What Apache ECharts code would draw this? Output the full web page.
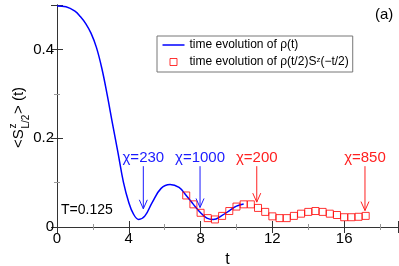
<!DOCTYPE html>
<html><head><meta charset="utf-8">
<script src="https://cdn.jsdelivr.net/npm/echarts@6/dist/echarts.min.js"></script>
<style>html,body{margin:0;padding:0;background:#fff}#c{width:399px;height:266px}</style>
</head><body><div id="c"></div>
<script>
const blueName = 'time evolution of ρ(t)';
const redName = 'time evolution of ρ(t/2)S^z(−t/2)';
const tBlue = [0,0.5,1.0,1.3,1.6,1.9,2.2,2.5,2.8,3.1,3.4,3.7,4.0,4.25,4.55,4.9,5.3,5.8,6.3,6.8,7.2,7.6,8.0,8.35,8.7,9.2,9.65,10.0,10.4];
const sBlue = [0.498,0.496,0.486,0.474,0.458,0.436,0.404,0.357,0.297,0.231,0.167,0.101,0.055,0.030,0.017,0.025,0.055,0.087,0.096,0.089,0.071,0.051,0.032,0.020,0.017,0.026,0.038,0.047,0.052];
const tRed = [7.2,7.6,8.0,8.4,8.8,9.2,9.6,10.0,10.4,10.8,11.2,11.6,12.0,12.4,12.8,13.2,13.6,14.0,14.4,14.8,15.2,15.6,16.0,16.4,16.8,17.2];
const sRed = [0.071,0.051,0.032,0.020,0.017,0.025,0.036,0.046,0.051,0.051,0.043,0.034,0.024,0.020,0.020,0.025,0.030,0.034,0.036,0.034,0.030,0.027,0.022,0.022,0.023,0.025];
const chiLabels = ['χ=230','χ=1000','χ=200','χ=850'];
const chiT = [4.81,7.97,11.13,17.16];
const chiTip = [0.041,0.044,0.056,0.037];
const chiColor = ['#1a1aff','#1a1aff','#ff2020','#ff2020'];
const arrowTop = 0.137;
const xTicks = [0,4,8,12,16];
const yTicks = [0,0.2,0.4];

const FONT = 'Liberation Sans, Arial, sans-serif';
const axisLineStyle = {show: true, lineStyle: {color: '#333', width: 1}};
const minorTick = {inside: true, length: 3, lineStyle: {color: '#999'}};
const majorTick = {inside: true, length: 6, lineStyle: {color: '#333'}};
function xAx(pos, major, withLabels) {
  const a = {type: 'value', min: 0, max: 19, interval: major ? 4 : 2, position: pos,
    axisLine: major ? {show: false} : axisLineStyle, axisTick: major ? majorTick : minorTick,
    axisLabel: {show: false}, splitLine: {show: false}};
  if (withLabels) {
    a.axisLabel = {show: true, fontSize: 15, fontFamily: FONT, color: '#000', margin: 4,
      formatter: v => xTicks.indexOf(v) >= 0 ? String(v) : ''};
    a.name = 't'; a.nameLocation = 'middle'; a.nameGap = 25;
    a.nameTextStyle = {fontSize: 16, fontFamily: FONT, color: '#000'};
  }
  return a;
}
function yAx(pos, major, withLabels) {
  const a = {type: 'value', min: 0, max: 0.5, interval: major ? 0.2 : 0.1, position: pos,
    axisLine: major ? {show: false} : axisLineStyle, axisTick: major ? majorTick : minorTick,
    axisLabel: {show: false}, splitLine: {show: false}};
  if (withLabels) {
    a.axisLabel = {show: true, fontSize: 15, fontFamily: FONT, color: '#000', margin: 3,
      formatter: v => { const r = Math.round(v * 10) / 10; return yTicks.indexOf(r) >= 0 ? String(r) : ''; }};
  }
  return a;
}
const chart = echarts.init(document.getElementById('c'));
chart.setOption({
  animation: false,
  grid: {left: 57, right: 1, top: 5, bottom: 39, outerBoundsMode: 'none', containLabel: false},
  legend: {
    orient: 'vertical', left: 157, top: 36,
    itemWidth: 22, itemHeight: 7, itemGap: 5,
    padding: [3, 4, 4, 5],
    borderColor: '#777', borderWidth: 1, backgroundColor: '#fff',
    data: [
      {name: blueName, icon: 'path://M0,2.75 L22,2.75 L22,4.25 L0,4.25 Z M0,0 L0,0 M22,7 L22,7',
       itemStyle: {color: '#0000ff', borderWidth: 0}},
      {name: redName, icon: 'path://M7.5,0 L14.5,0 L14.5,7 L7.5,7 Z M0,3.5 L0,3.5 M22,3.5 L22,3.5',
       itemStyle: {color: 'rgba(0,0,0,0)', borderColor: '#ff0000', borderWidth: 1}}
    ],
    formatter: function (n) { return n === redName ? 'time evolution of ρ(t/2)S{sup|z}(−t/2)' : n; },
    textStyle: {fontSize: 12, fontFamily: FONT, color: '#000',
      rich: {sup: {fontSize: 8, fontFamily: FONT, verticalAlign: 'top', color: '#000'}}}
  },
  xAxis: [xAx('bottom', false, true), xAx('top', false, false), xAx('bottom', true, false), xAx('top', true, false)],
  yAxis: [yAx('left', false, true), yAx('right', false, false), yAx('left', true, false), yAx('right', true, false)],
  series: [
    {name: blueName, type: 'line', xAxisIndex: 0, yAxisIndex: 0, smooth: 0.4, symbol: 'none',
     lineStyle: {color: '#0000ff', width: 1.5}, itemStyle: {color: '#0000ff'},
     data: tBlue.map((t, i) => [t, sBlue[i]])},
    {name: redName, type: 'scatter', xAxisIndex: 0, yAxisIndex: 0, symbol: 'rect', symbolSize: 7,
     itemStyle: {color: 'rgba(0,0,0,0)', borderColor: '#ff0000', borderWidth: 1}, z: 3,
     data: tRed.map((t, i) => [t, sRed[i]])},
    {name: 'arrows', type: 'custom', xAxisIndex: 0, yAxisIndex: 0, silent: true, z: 4,
     data: chiT.map((t, i) => [t, arrowTop, chiTip[i], i]),
     renderItem: function (params, api) {
       const i = api.value(3);
       const c = chiColor[i];
       const p1 = api.coord([api.value(0), api.value(1)]);
       const p2 = api.coord([api.value(0), api.value(2)]);
       return {type: 'group', children: [
         {type: 'line', shape: {x1: p1[0], y1: p1[1], x2: p2[0], y2: p2[1]}, style: {stroke: c, lineWidth: 1}},
         {type: 'polyline', shape: {points: [[p2[0] - 4, p2[1] - 9], [p2[0], p2[1]], [p2[0] + 4, p2[1] - 9]]},
          style: {stroke: c, lineWidth: 1, fill: null}},
         {type: 'text', x: p1[0], y: p1[1] - 1,
          style: {text: chiLabels[i], fill: c, fontSize: 15, fontFamily: FONT, align: 'center', verticalAlign: 'bottom'}}
       ]};
     }}
  ],
  graphic: [
    {type: 'text', left: 61, top: 203, style: {text: 'T=0.125', fontSize: 14, fontFamily: FONT, fill: '#000'}},
    {type: 'text', left: 375, top: 7, style: {text: '(a)', fontSize: 15, fontFamily: FONT, fill: '#000'}},
    {type: 'group', x: 24, y: 148, rotation: Math.PI / 2, children: [
      {type: 'text', x: 0, y: -5, style: {text: '<S', fontSize: 15, fontFamily: FONT, fill: '#000', verticalAlign: 'middle'}},
      {type: 'text', x: 19.5, y: -11, style: {text: 'z', fontSize: 10, fontFamily: FONT, fill: '#000', verticalAlign: 'middle'}},
      {type: 'text', x: 19.5, y: 2, style: {text: 'L/2', fontSize: 10, fontFamily: FONT, fill: '#000', verticalAlign: 'middle'}},
      {type: 'text', x: 34, y: -5, style: {text: '> (t)', fontSize: 15, fontFamily: FONT, fill: '#000', verticalAlign: 'middle'}}
    ]}
  ]
});
</script></body></html>
